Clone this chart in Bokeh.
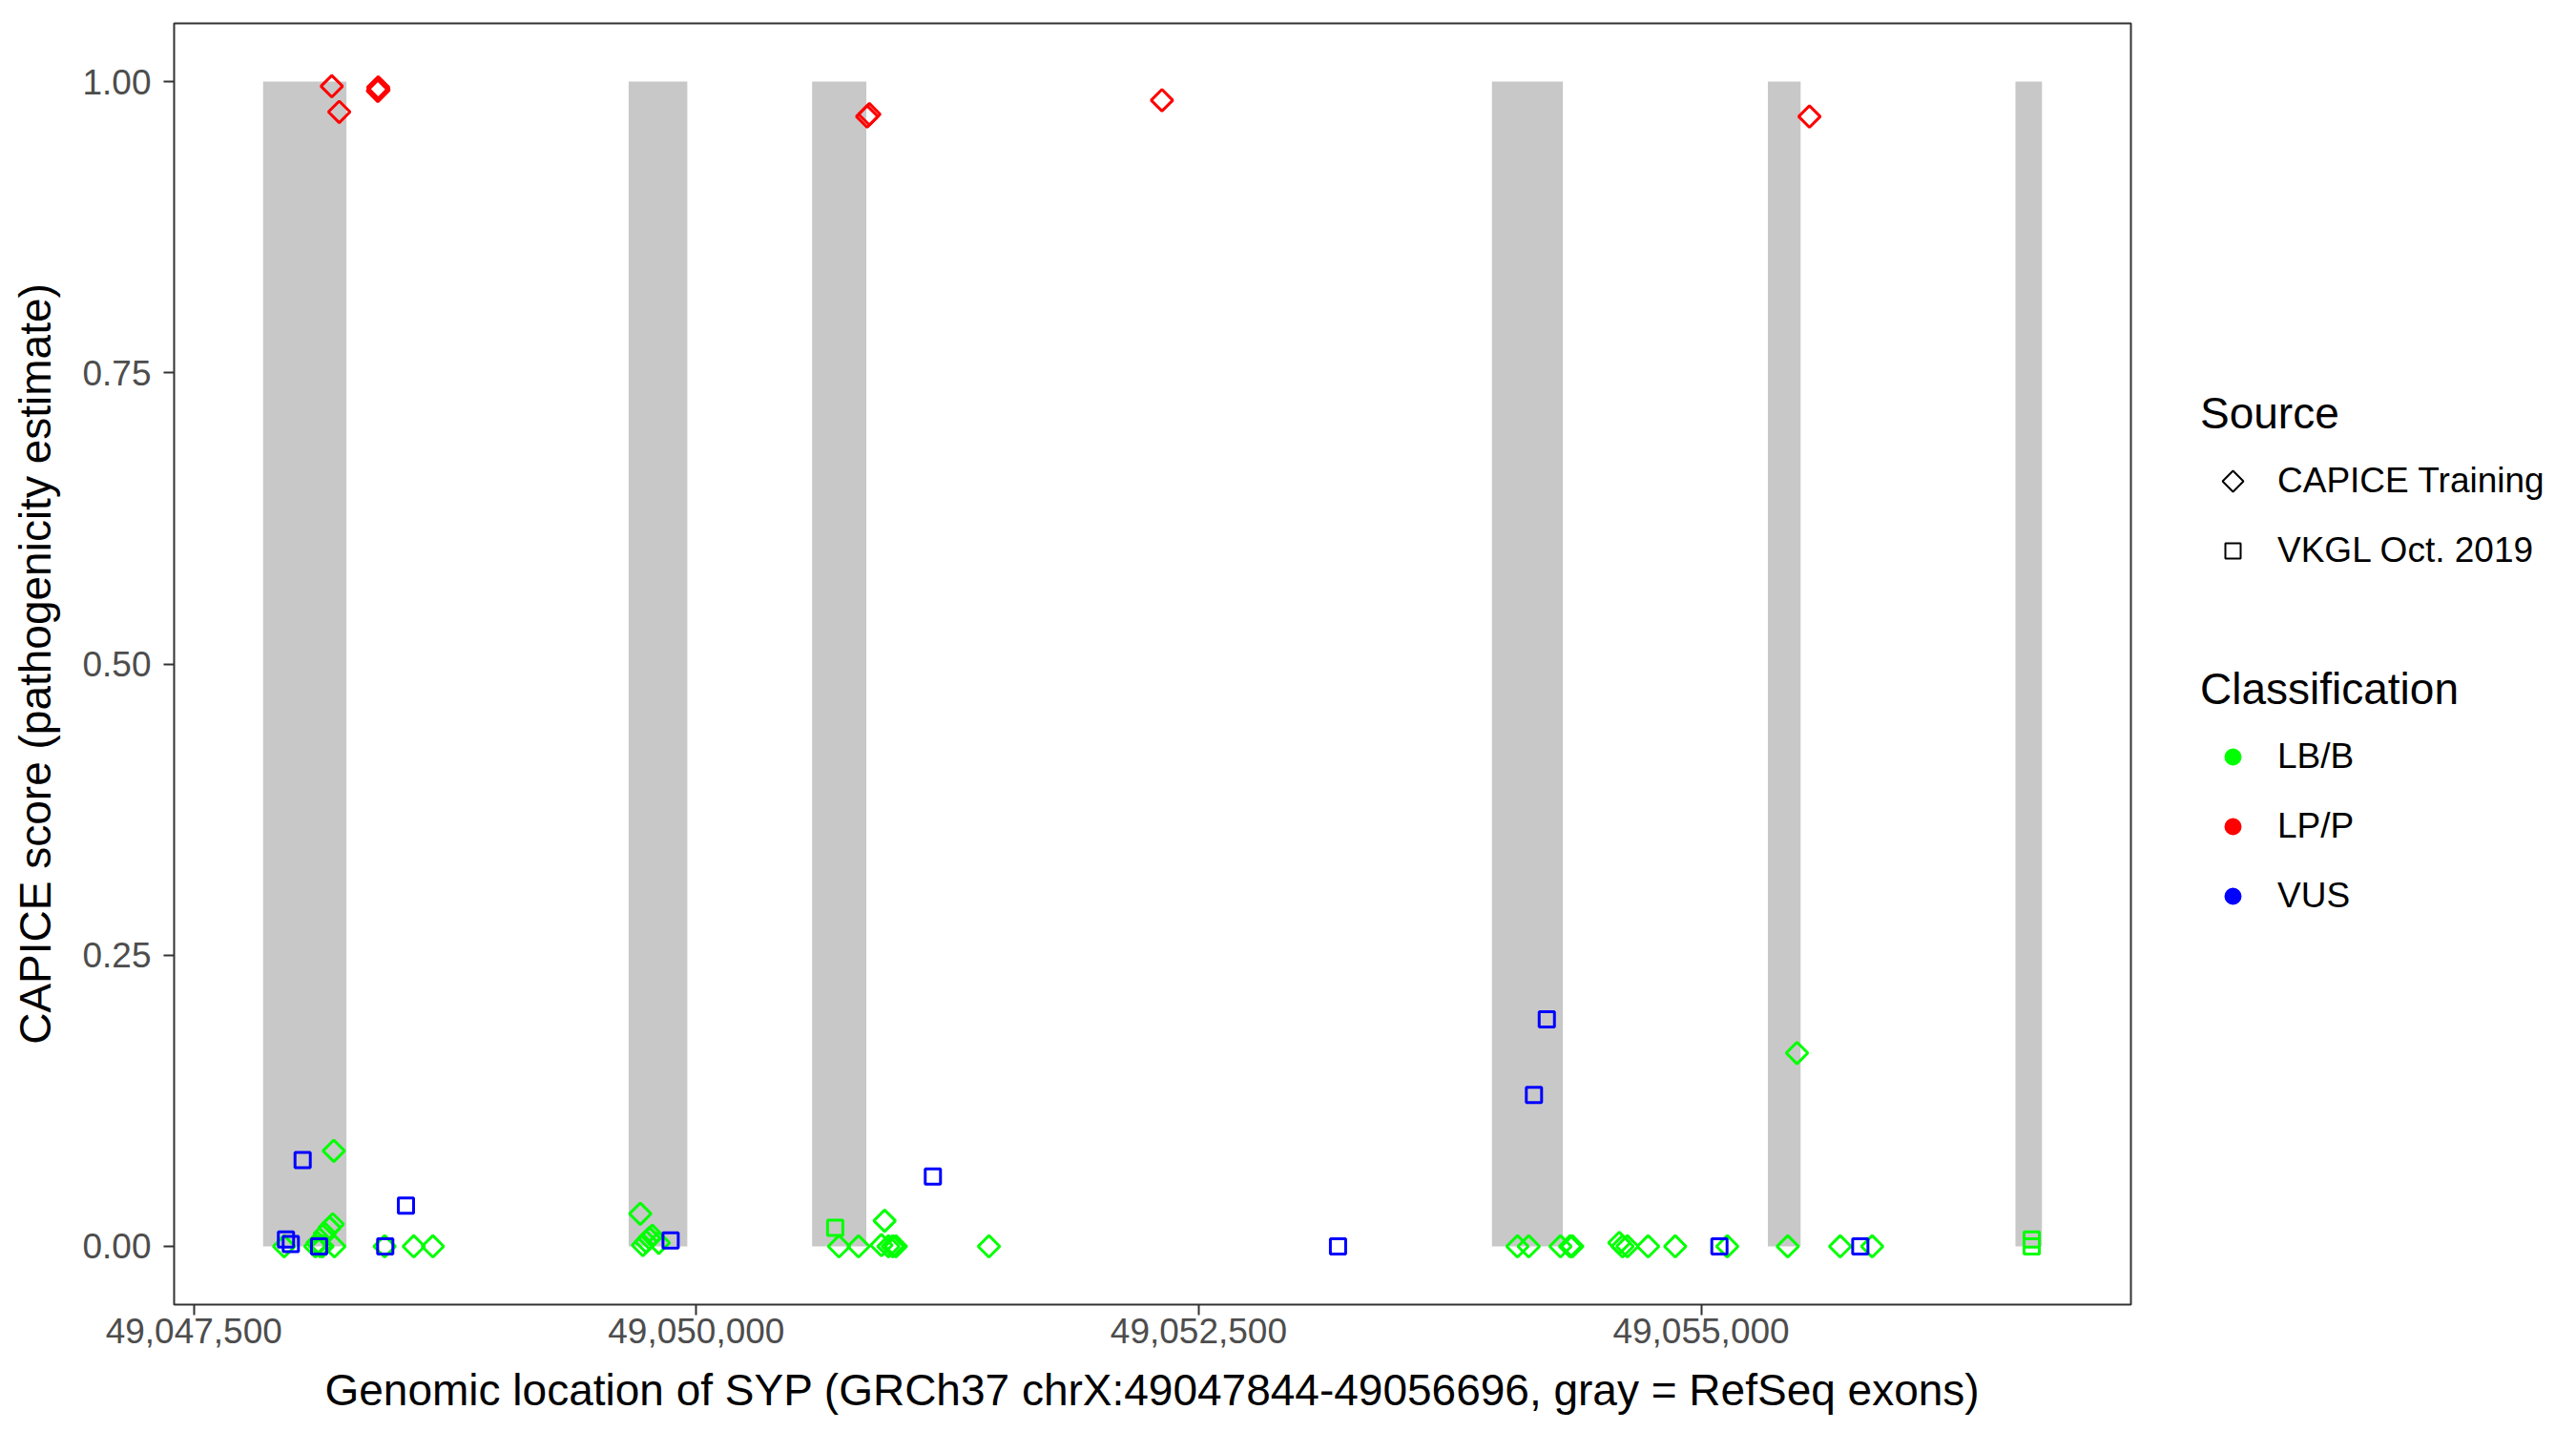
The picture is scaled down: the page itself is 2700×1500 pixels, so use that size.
import math
from bokeh.plotting import figure
from bokeh.layouts import row
from bokeh.models import (Range1d, FixedTicker, NumeralTickFormatter, Legend,
                          LegendItem, ColumnDataSource)
from bokeh.transform import factor_cmap
from bokeh.embed import file_html
from bokeh.resources import INLINE

# ---------------- data ----------------
exon_start = [49047844, 49049663, 49050576, 49053959, 49055332, 49056564]
exon_end = [49048259, 49049955, 49050846, 49054312, 49055495, 49056696]

classes = ["LB/B", "LP/P", "VUS"]
class_colors = ["#00FF00", "#FF0000", "#0000FF"]
sources = ["CAPICE Training", "VKGL Oct. 2019"]

# CAPICE Training variants (diamonds)
capice_pos = [
    49047949, 49048104, 49048115, 49048128, 49048140, 49048151, 49048175,
    49048191, 49048199, 49048196, 49048449, 49048594, 49048689,
    49049721, 49049734, 49049750, 49049766, 49049781, 49049813,
    49050710, 49050807, 49050937, 49050921, 49050956, 49050977, 49050993,
    49051456,
    49054086, 49054142, 49054300, 49054348, 49054359, 49054593, 49054609,
    49054633, 49054736, 49054871, 49055130, 49055431, 49055477, 49055692,
    49055851,
    49048186, 49048223, 49048417, 49048419, 49048415, 49050850, 49050861,
    49052317, 49055539,
]
capice_score = [
    0.0, 0.0, 0.003, 0.0, 0.0, 0.011, 0.016,
    0.019, 0.0, 0.082, 0.0, 0.0, 0.0,
    0.028, 0.001, 0.004, 0.007, 0.009, 0.003,
    0.0, 0.0, 0.022, 0.001, 0.0, 0.0, 0.0,
    0.0,
    0.0, 0.0, 0.0, 0.0, 0.0, 0.003, 0.0,
    0.0, 0.0, 0.0, 0.0, 0.0, 0.166, 0.0,
    0.0,
    0.996, 0.974, 0.995, 0.993, 0.992, 0.970, 0.972,
    0.984, 0.970,
]
capice_class = (["LB/B"] * 42) + (["LP/P"] * 9)

# VKGL Oct. 2019 variants (squares)
vkgl_pos = [
    49048041, 49048555, 49047958, 49047982, 49048123, 49048452, 49049872,
    49051177, 49053193, 49054232, 49054168, 49055091, 49055792,
    49050691, 49056645, 49056645,
]
vkgl_score = [
    0.074, 0.035, 0.006, 0.002, 0.0, 0.0, 0.005,
    0.060, 0.0, 0.195, 0.130, 0.0, 0.0,
    0.016, 0.006, 0.0,
]
vkgl_class = (["VUS"] * 13) + (["LB/B"] * 3)

y_ticks = [0.0, 0.25, 0.5, 0.75, 1.0]
x_ticks = [49047500, 49050000, 49052500, 49055000]

FONT = "Liberation Sans"

# ---------------- main figure ----------------
lo, hi = min(exon_start), max(exon_end)
pad = 0.05 * (hi - lo)

p = figure(width=2250, height=1500, output_backend="svg", toolbar_location=None,
           x_range=Range1d(lo - pad, hi + pad), y_range=Range1d(-0.05, 1.05),
           min_border_left=182, min_border_right=17, min_border_top=24,
           min_border_bottom=133)
p.xgrid.visible = False
p.ygrid.visible = False
p.outline_line_color = "#333333"
p.outline_line_width = 2
p.background_fill_color = "white"
p.border_fill_color = "white"

exons = ColumnDataSource(dict(left=exon_start, right=exon_end,
                              bottom=[0] * len(exon_start), top=[1] * len(exon_start)))
p.quad(left="left", right="right", bottom="bottom", top="top", source=exons,
       fill_color="#C8C8C8", line_color=None)

cmap = factor_cmap("cls", palette=class_colors, factors=classes)

src_c = ColumnDataSource(dict(x=capice_pos, y=capice_score, cls=capice_class))
src_v = ColumnDataSource(dict(x=vkgl_pos, y=vkgl_score, cls=vkgl_class))

MS = 16
LW = 3
p.scatter(x="x", y="y", source=src_c, marker="square", angle=math.pi / 4,
          size=MS, fill_color=None, line_color=cmap, line_width=LW)
p.scatter(x="x", y="y", source=src_v, marker="square",
          size=MS, fill_color=None, line_color=cmap, line_width=LW)

# axes
for ax in (p.xaxis[0], p.yaxis[0]):
    ax.axis_line_color = None
    ax.major_tick_line_color = "#333333"
    ax.major_tick_line_width = 2
    ax.major_tick_out = 11
    ax.major_tick_in = 0
    ax.minor_tick_line_color = None
    ax.major_label_text_font = FONT
    ax.major_label_text_font_size = "37px"
    ax.major_label_text_color = "#4D4D4D"
    ax.axis_label_text_font = FONT
    ax.axis_label_text_font_size = "46px"
    ax.axis_label_text_font_style = "normal"
    ax.axis_label_text_color = "black"

p.xaxis[0].ticker = FixedTicker(ticks=x_ticks)
p.xaxis[0].formatter = NumeralTickFormatter(format="0,0")
p.xaxis[0].axis_label = "Genomic location of SYP (GRCh37 chrX:49047844-49056696, gray = RefSeq exons)"
p.xaxis[0].major_label_standoff = 3
p.xaxis[0].axis_label_standoff = 20

p.yaxis[0].ticker = FixedTicker(ticks=y_ticks)
p.yaxis[0].formatter = NumeralTickFormatter(format="0.00")
p.yaxis[0].axis_label = "CAPICE score (pathogenicity estimate)"
p.yaxis[0].major_label_standoff = 13
p.yaxis[0].axis_label_standoff = 20

# ---------------- legend panel ----------------
# frame of this panel is aligned with the main frame: units are pixels
LF_W, LF_H = 450, 1343
lf = figure(width=LF_W, height=1500, output_backend="svg", toolbar_location=None,
            x_range=Range1d(0, LF_W), y_range=Range1d(0, LF_H),
            min_border_left=0, min_border_right=0, min_border_top=0,
            min_border_bottom=0)
lf.axis.visible = False
lf.grid.visible = False
lf.outline_line_color = None
lf.background_fill_color = "white"
lf.border_fill_color = "white"

NAN = float("nan")
# legend key renderers (a single NaN point each: nothing is drawn in the plot)
k_diamond = lf.scatter(x=[NAN], y=[NAN], marker="square",
                       fill_color=None, line_color="black", line_alpha=0, line_width=2)
k_square = lf.scatter(x=[NAN], y=[NAN], marker="square",
                      fill_color=None, line_color="black", line_width=2)
k_cls = [lf.scatter(x=[NAN], y=[NAN], marker="circle", fill_color=c,
                    line_color=c, line_width=2) for c in class_colors]

SRC_LOC = (56, 767)
CLS_LOC = (56, 405)
GLYPH_W = 68
GLYPH_H = 40
LABEL_H = 46
TITLE_H = 50
TITLE_STANDOFF = 21
SPACING = 27


def make_legend(title, items, loc):
    lg = Legend(items=items, title=title, location=loc)
    lg.title_text_font = FONT
    lg.title_text_font_size = "46px"
    lg.title_text_font_style = "normal"
    lg.title_text_color = "black"
    lg.label_text_font = FONT
    lg.label_text_font_size = "37px"
    lg.label_text_color = "black"
    lg.glyph_width = GLYPH_W
    lg.glyph_height = GLYPH_H
    lg.label_height = LABEL_H
    lg.label_standoff = 13
    lg.spacing = SPACING
    lg.title_standoff = TITLE_STANDOFF
    lg.padding = 0
    lg.margin = 0
    lg.border_line_color = None
    lg.background_fill_alpha = 0
    return lg


leg_src = make_legend("Source", [LegendItem(label=sources[0], renderers=[k_diamond]),
                                 LegendItem(label=sources[1], renderers=[k_square])],
                      SRC_LOC)
leg_cls = make_legend("Classification",
                      [LegendItem(label=c, renderers=[r]) for c, r in zip(classes, k_cls)],
                      CLS_LOC)
lf.add_layout(leg_src)
lf.add_layout(leg_cls)

# Bokeh never rotates legend glyphs, so the diamond key of the first
# "Source" entry is drawn as a rotated square at that entry's key slot.
src_height = TITLE_H + TITLE_STANDOFF + 2 * LABEL_H + SPACING
key_x = SRC_LOC[0] + GLYPH_W / 2
key_y = SRC_LOC[1] + src_height - TITLE_H - TITLE_STANDOFF - LABEL_H / 2
lf.scatter(x=[key_x], y=[key_y], marker="square", angle=math.pi / 4, size=15.5,
           fill_color=None, line_color="black", line_width=2)

layout = row(p, lf)
open("out.html", "w").write(file_html(layout, INLINE))
